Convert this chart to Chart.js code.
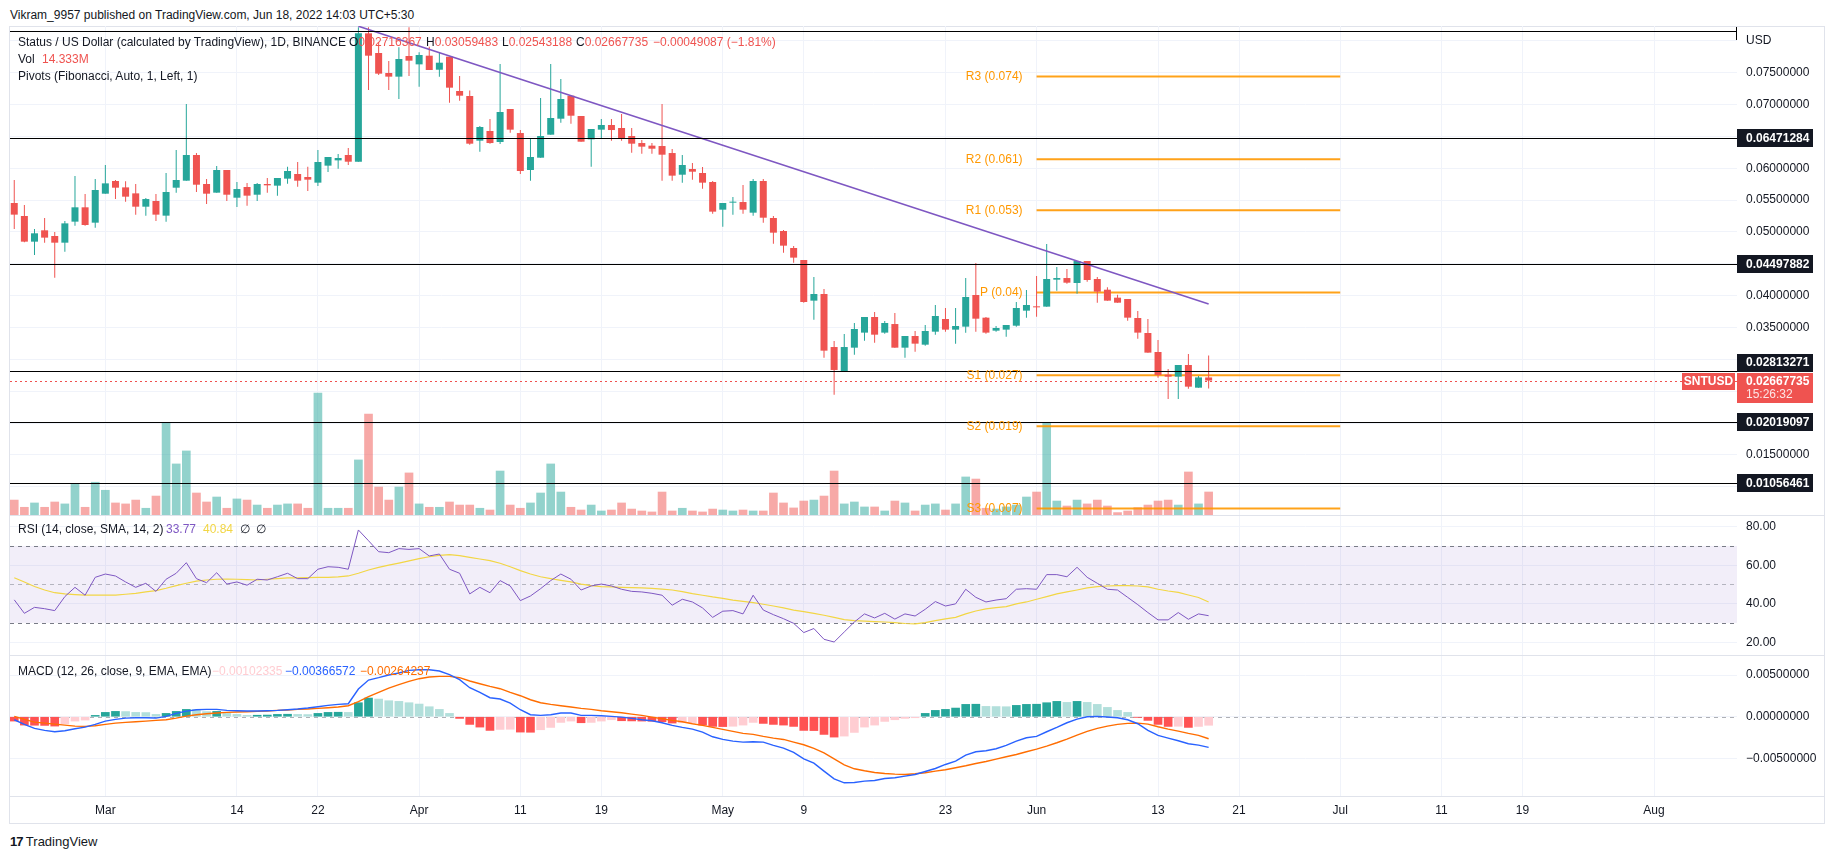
<!DOCTYPE html>
<html>
<head>
<meta charset="utf-8">
<title>SNTUSD 1D</title>
<script src="https://cdn.jsdelivr.net/npm/chart.js@4.4.0/dist/chart.umd.min.js"></script>
<style>
  body { margin: 0; background: #fff; font-family: 'Liberation Sans', Arial, sans-serif; color: #131722; }
  #wrap { position: relative; width: 1834px; height: 859px; overflow: hidden; }
  canvas { position: absolute; left: 0; }
  .txt { position: absolute; font-size: 12px; line-height: 14px; white-space: nowrap; }
  .sep { position: absolute; left: 9px; width: 1815px; height: 1px; background: #e0e3eb; }
  .r { color: #ef5350; }
</style>
</head>
<body>
<div id="wrap">
  <div class="txt" style="left:10px;top:8px">Vikram_9957 published on TradingView.com, Jun 18, 2022 14:03 UTC+5:30</div>
  <div style="position:absolute;left:9px;top:26px;width:1814px;height:796px;border:1px solid #e0e3eb"></div>

  <canvas id="main" width="1824" height="489" style="top:26px"></canvas>
  <canvas id="rsi" width="1824" height="140" style="top:515px"></canvas>
  <canvas id="macd" width="1824" height="168" style="top:655px"></canvas>

  <div class="sep" style="top:515px"></div>
  <div class="sep" style="top:655px"></div>
  <div class="sep" style="top:796px"></div>

  <!-- main pane legend -->
  <div class="txt" style="left:18px;top:35px">Status / US Dollar (calculated by TradingView), 1D, BINANCE</div>
  <div class="txt" style="left:349px;top:35px">O<span class="r">0.02716367</span></div>
  <div class="txt" style="left:426px;top:35px">H<span class="r">0.03059483</span></div>
  <div class="txt" style="left:502px;top:35px">L<span class="r">0.02543188</span></div>
  <div class="txt" style="left:576px;top:35px">C<span class="r">0.02667735</span></div>
  <div class="txt r" style="left:653px;top:35px">−0.00049087 (−1.81%)</div>
  <div class="txt" style="left:18px;top:52px">Vol</div>
  <div class="txt r" style="left:42px;top:52px">14.333M</div>
  <div class="txt" style="left:18px;top:69px">Pivots (Fibonacci, Auto, 1, Left, 1)</div>

  <!-- RSI legend -->
  <div class="txt" style="left:18px;top:522px">RSI (14, close, SMA, 14, 2)</div>
  <div class="txt" style="left:166px;top:522px;color:#7e57c2">33.77</div>
  <div class="txt" style="left:203px;top:522px;color:#f2d645">40.84</div>
  <div class="txt" style="left:240px;top:522px">∅</div>
  <div class="txt" style="left:256px;top:522px">∅</div>

  <!-- MACD legend -->
  <div class="txt" style="left:18px;top:664px">MACD (12, 26, close, 9, EMA, EMA)</div>
  <div class="txt" style="left:212px;top:664px;color:#ffcdd2">−0.00102335</div>
  <div class="txt" style="left:285px;top:664px;color:#2962ff">−0.00366572</div>
  <div class="txt" style="left:360px;top:664px;color:#ff6d00">−0.00264237</div>

  <div class="txt" style="left:10px;top:835px;font-size:13px"><b style="letter-spacing:-1px">17</b> TradingView</div>
</div>

<script>
// ---- data (daily candles, Feb 20 .. Jun 18 2022) ----
const firstDay = -9; // Feb 20, counted in days from Mar 1

const open = [
  0.05455, 0.05251, 0.04848, 0.05026, 0.04937, 0.04832, 0.05162, 0.05387, 0.05146, 0.05601,
  0.05800, 0.05700, 0.05606, 0.05397, 0.05486, 0.05256, 0.05695, 0.05805, 0.06208, 0.05753,
  0.05617, 0.05973, 0.05538, 0.05706, 0.05585, 0.05753, 0.05727, 0.05837, 0.05910, 0.05863,
  0.05774, 0.06041, 0.06124, 0.06208, 0.06103, 0.08118, 0.07809, 0.07495, 0.07438, 0.07762,
  0.07631, 0.07767, 0.07547, 0.07751, 0.07213, 0.07134, 0.06433, 0.06585, 0.06412, 0.06930,
  0.06553, 0.05973, 0.06166, 0.06527, 0.06778, 0.07139, 0.06820, 0.06454, 0.06606, 0.06679,
  0.06632, 0.06506, 0.06396, 0.06355, 0.06349, 0.06239, 0.05899, 0.05988, 0.05926, 0.05784,
  0.05350, 0.05460, 0.05470, 0.05303, 0.05800, 0.05219, 0.05015, 0.04748, 0.04560, 0.03922,
  0.04026, 0.03194, 0.02818, 0.03184, 0.03420, 0.03665, 0.03420, 0.03555, 0.03184, 0.03367,
  0.03231, 0.03435, 0.03634, 0.03467, 0.03514, 0.04011, 0.03655, 0.03451, 0.03467, 0.03529,
  0.03765, 0.03828, 0.03828, 0.04251, 0.04277, 0.04199, 0.04544, 0.04262, 0.04094, 0.03969,
  0.03948, 0.03650, 0.03414, 0.03116, 0.02760, 0.02729, 0.02912, 0.02556, 0.02716367,
];
const high = [
  0.05816, 0.05423, 0.05047, 0.05219, 0.04999, 0.05172, 0.05878, 0.05596, 0.05831, 0.06051,
  0.05816, 0.05795, 0.05753, 0.05533, 0.05596, 0.05926, 0.06286, 0.07009, 0.06239, 0.05831,
  0.06035, 0.05973, 0.05784, 0.05769, 0.05769, 0.05847, 0.05847, 0.06025, 0.06098, 0.06025,
  0.06286, 0.06177, 0.06224, 0.06318, 0.08212, 0.08212, 0.07980, 0.07683, 0.07898, 0.08212,
  0.07820, 0.07908, 0.07820, 0.07751, 0.07448, 0.07220, 0.06663, 0.06773, 0.07636, 0.06930,
  0.06600, 0.06459, 0.07103, 0.07636, 0.07401, 0.07139, 0.06820, 0.06616, 0.06773, 0.06773,
  0.06852, 0.06632, 0.06443, 0.06396, 0.07009, 0.06302, 0.06208, 0.06083, 0.06020, 0.05800,
  0.05455, 0.05549, 0.05737, 0.05831, 0.05831, 0.05251, 0.05031, 0.04780, 0.04560, 0.04293,
  0.04105, 0.03289, 0.03399, 0.03571, 0.03665, 0.03744, 0.03603, 0.03728, 0.03367, 0.03446,
  0.03540, 0.03854, 0.03807, 0.03807, 0.04277, 0.04513, 0.03665, 0.03524, 0.03540, 0.03901,
  0.04089, 0.04309, 0.04811, 0.04450, 0.04419, 0.04544, 0.04544, 0.04293, 0.04131, 0.04016,
  0.03948, 0.03760, 0.03634, 0.03304, 0.02849, 0.02912, 0.03085, 0.02740, 0.03059483,
];
const low = [
  0.05047, 0.04840, 0.04638, 0.04832, 0.04283, 0.04691, 0.05099, 0.05099, 0.05067, 0.05601,
  0.05517, 0.05476, 0.05272, 0.05256, 0.05172, 0.05162, 0.05617, 0.05805, 0.05627, 0.05439,
  0.05617, 0.05486, 0.05392, 0.05413, 0.05486, 0.05617, 0.05570, 0.05758, 0.05711, 0.05643,
  0.05721, 0.05941, 0.05994, 0.06051, 0.06103, 0.07228, 0.07464, 0.07228, 0.07087, 0.07448,
  0.07281, 0.07542, 0.07438, 0.07029, 0.07061, 0.06370, 0.06260, 0.06386, 0.06381, 0.06559,
  0.05910, 0.05805, 0.06166, 0.06527, 0.06716, 0.06700, 0.06417, 0.06025, 0.06459, 0.06433,
  0.06433, 0.06245, 0.06229, 0.06229, 0.05805, 0.05805, 0.05774, 0.05821, 0.05680, 0.05287,
  0.05083, 0.05272, 0.05287, 0.05256, 0.05146, 0.04816, 0.04675, 0.04518, 0.03890, 0.03623,
  0.03027, 0.02446, 0.02818, 0.03074, 0.03294, 0.03263, 0.03404, 0.03184, 0.03027, 0.03121,
  0.03215, 0.03388, 0.03435, 0.03247, 0.03420, 0.03435, 0.03404, 0.03435, 0.03357, 0.03514,
  0.03655, 0.03671, 0.03828, 0.04079, 0.04188, 0.04032, 0.04220, 0.03890, 0.03922, 0.03890,
  0.03608, 0.03325, 0.03106, 0.02713, 0.02379, 0.02379, 0.02541, 0.02556, 0.02543188,
];
const close = [
  0.05272, 0.04848, 0.04979, 0.04911, 0.04832, 0.05135, 0.05387, 0.05109, 0.05659, 0.05763,
  0.05695, 0.05554, 0.05397, 0.05517, 0.05272, 0.05627, 0.05816, 0.06208, 0.05742, 0.05601,
  0.05973, 0.05585, 0.05674, 0.05570, 0.05753, 0.05732, 0.05847, 0.05957, 0.05805, 0.05821,
  0.06098, 0.06177, 0.06161, 0.06103, 0.08118, 0.07767, 0.07485, 0.07438, 0.07715, 0.07689,
  0.07778, 0.07542, 0.07657, 0.07265, 0.07139, 0.06386, 0.06648, 0.06396, 0.06883, 0.06606,
  0.05957, 0.06177, 0.06506, 0.06789, 0.07087, 0.06825, 0.06417, 0.06616, 0.06679, 0.06600,
  0.06464, 0.06386, 0.06339, 0.06307, 0.06213, 0.05884, 0.06051, 0.05946, 0.05774, 0.05319,
  0.05455, 0.05470, 0.05350, 0.05800, 0.05224, 0.04989, 0.04785, 0.04597, 0.03901, 0.04026,
  0.03137, 0.02834, 0.03194, 0.03477, 0.03665, 0.03388, 0.03571, 0.03184, 0.03367, 0.03247,
  0.03446, 0.03681, 0.03467, 0.03524, 0.03979, 0.03639, 0.03420, 0.03493, 0.03540, 0.03807,
  0.03854, 0.03817, 0.04262, 0.04277, 0.04204, 0.04544, 0.04246, 0.04063, 0.03922, 0.03890,
  0.03655, 0.03420, 0.03106, 0.02755, 0.02729, 0.02912, 0.02572, 0.02717, 0.02667735,
];
// volume, millions
const volume = [
  9.3, 4.8, 7.5, 4.8, 8.1, 6.9, 19.5, 4.8, 20.4, 15.4,
  7.5, 6.9, 9.3, 4.2, 11.8, 57.7, 31.8, 39.9, 13.7, 8.1,
  11.2, 4.2, 10.0, 9.3, 6.2, 4.2, 6.2, 6.9, 6.9, 4.2,
  76.0, 4.2, 4.2, 4.2, 34.3, 62.9, 17.4, 9.3, 17.4, 26.2,
  6.9, 4.8, 4.8, 8.1, 6.2, 6.2, 4.2, 3.1, 27.4, 6.2,
  4.2, 7.5, 13.7, 31.8, 14.3, 4.8, 3.1, 6.2, 2.5, 3.1,
  7.5, 3.7, 2.5, 1.9, 14.3, 2.5, 4.2, 2.5, 1.9, 3.7,
  3.1, 2.5, 3.1, 2.5, 2.5, 13.7, 7.5, 4.4, 8.7, 9.3,
  11.8, 27.4, 6.9, 8.1, 5.0, 5.0, 2.5, 8.7, 7.5, 2.5,
  6.2, 6.9, 3.1, 6.9, 23.7, 22.4, 4.2, 3.7, 5.0, 6.2,
  11.2, 14.3, 57.7, 8.7, 5.6, 9.3, 6.9, 9.3, 5.6, 1.5,
  2.5, 4.6, 6.2, 8.7, 9.3, 6.2, 26.8, 6.9, 14.333,
];
const rsi = [
  42.0, 35.0, 38.1, 37.4, 36.4, 43.7, 48.5, 44.4, 53.7, 55.4,
  54.4, 51.3, 48.5, 50.6, 46.4, 52.7, 55.8, 61.3, 53.0, 50.9,
  56.1, 50.2, 51.3, 49.6, 52.7, 52.3, 54.0, 55.8, 53.0, 53.0,
  57.9, 59.2, 58.9, 57.9, 78.3, 72.7, 67.0, 66.5, 68.6, 68.2,
  68.6, 64.8, 65.8, 57.9, 55.8, 45.1, 48.5, 45.7, 52.0, 49.2,
  41.6, 44.0, 47.8, 52.0, 55.4, 52.7, 47.1, 49.2, 50.2, 49.2,
  47.5, 46.4, 46.1, 45.4, 44.4, 39.2, 42.3, 40.9, 37.8, 32.9,
  36.1, 36.4, 34.7, 44.4, 36.7, 34.3, 32.2, 29.8, 25.0, 27.1,
  21.5, 20.1, 25.3, 30.5, 34.7, 32.6, 35.0, 32.0, 34.7, 33.6,
  37.1, 41.1, 38.8, 39.9, 47.5, 43.3, 40.9, 41.9, 42.6, 47.5,
  47.8, 47.5, 55.1, 55.1, 54.0, 58.9, 53.7, 50.6, 47.5, 47.1,
  43.3, 39.5, 35.4, 31.6, 31.6, 35.4, 31.9, 34.7, 33.77,
];
const rsiMa = [
  53.5, 51.3, 48.9, 47.1, 45.7, 45.1, 44.7, 44.4, 44.4, 44.4,
  44.5, 44.9, 45.4, 46.1, 46.8, 48.0, 49.4, 50.6, 51.7, 52.3,
  52.7, 52.8, 52.7, 52.5, 52.3, 52.7, 53.0, 53.4, 53.4, 53.5,
  53.7, 53.7, 53.9, 54.4, 55.8, 57.5, 58.9, 60.0, 61.1, 62.2,
  63.4, 64.4, 65.1, 65.5, 65.0, 64.1, 63.2, 62.4, 61.0, 59.2,
  57.2, 55.4, 54.0, 53.0, 52.1, 51.3, 50.2, 49.4, 48.9, 48.7,
  48.5, 48.3, 48.2, 48.0, 47.6, 47.1, 46.3, 45.2, 44.4, 43.5,
  42.8, 41.9, 41.2, 40.6, 39.7, 38.8, 37.8, 36.7, 35.9, 35.0,
  34.0, 32.9, 31.7, 31.2, 30.9, 30.7, 30.5, 30.2, 29.7, 29.5,
  30.2, 31.2, 32.1, 32.9, 34.7, 36.2, 37.3, 38.0, 38.5, 39.9,
  40.9, 42.3, 43.7, 45.1, 46.1, 47.1, 48.2, 48.9, 49.2, 49.4,
  49.4, 49.2, 48.7, 47.5, 46.6, 45.9, 44.5, 43.2, 40.84,
];
const macdLine = [
  -0.00036, -0.00092, -0.00140, -0.00164, -0.00180, -0.00168, -0.00144, -0.00124, -0.00092, -0.00052,
  -0.00032, -0.00016, -0.00012, -0.00012, -0.00016, 0.00004, 0.00040, 0.00068, 0.00084, 0.00088,
  0.00088, 0.00076, 0.00072, 0.00068, 0.00068, 0.00072, 0.00076, 0.00084, 0.00092, 0.00104,
  0.00120, 0.00136, 0.00148, 0.00156, 0.00332, 0.00440, 0.00468, 0.00500, 0.00524, 0.00556,
  0.00564, 0.00564, 0.00548, 0.00504, 0.00444, 0.00348, 0.00292, 0.00228, 0.00212, 0.00164,
  0.00084, 0.00024, 0.00016, 0.00024, 0.00044, 0.00044, 0.00016, 0.00016, 0.00012, 0.00004,
  -0.00004, -0.00020, -0.00036, -0.00048, -0.00072, -0.00104, -0.00128, -0.00148, -0.00184, -0.00240,
  -0.00272, -0.00292, -0.00304, -0.00300, -0.00304, -0.00344, -0.00376, -0.00428, -0.00504, -0.00556,
  -0.00652, -0.00744, -0.00792, -0.00788, -0.00772, -0.00764, -0.00740, -0.00732, -0.00712, -0.00692,
  -0.00656, -0.00620, -0.00572, -0.00532, -0.00460, -0.00420, -0.00408, -0.00384, -0.00344, -0.00292,
  -0.00252, -0.00236, -0.00180, -0.00128, -0.00072, -0.00028, 0.00000, 0.00004, -0.00004, -0.00012,
  -0.00036, -0.00084, -0.00164, -0.00224, -0.00256, -0.00288, -0.00324, -0.00340, -0.00366572,
];
const signalLine = [
  0.00004, -0.00032, -0.00064, -0.00076, -0.00088, -0.00100, -0.00112, -0.00116, -0.00108, -0.00092,
  -0.00076, -0.00068, -0.00060, -0.00052, -0.00044, -0.00036, -0.00016, 0.00008, 0.00024, 0.00036,
  0.00044, 0.00052, 0.00056, 0.00060, 0.00064, 0.00068, 0.00076, 0.00080, 0.00088, 0.00092,
  0.00100, 0.00108, 0.00116, 0.00132, 0.00180, 0.00240, 0.00292, 0.00344, 0.00384, 0.00424,
  0.00456, 0.00476, 0.00484, 0.00484, 0.00468, 0.00428, 0.00396, 0.00364, 0.00336, 0.00292,
  0.00252, 0.00204, 0.00168, 0.00148, 0.00132, 0.00116, 0.00100, 0.00088, 0.00072, 0.00060,
  0.00048, 0.00032, 0.00016, -0.00004, -0.00024, -0.00044, -0.00060, -0.00084, -0.00104, -0.00128,
  -0.00152, -0.00176, -0.00200, -0.00212, -0.00236, -0.00256, -0.00272, -0.00304, -0.00336, -0.00380,
  -0.00432, -0.00504, -0.00576, -0.00624, -0.00648, -0.00668, -0.00680, -0.00688, -0.00692, -0.00684,
  -0.00672, -0.00652, -0.00636, -0.00612, -0.00588, -0.00560, -0.00536, -0.00508, -0.00480, -0.00452,
  -0.00420, -0.00388, -0.00352, -0.00312, -0.00268, -0.00220, -0.00176, -0.00140, -0.00112, -0.00092,
  -0.00080, -0.00076, -0.00088, -0.00120, -0.00148, -0.00172, -0.00200, -0.00224, -0.00264237,
];
const histogram = [
  -0.00052, -0.00100, -0.00102, -0.00104, -0.00112, -0.00084, -0.00052, -0.00040, 0.00016, 0.00052,
  0.00064, 0.00062, 0.00052, 0.00050, 0.00028, 0.00040, 0.00064, 0.00088, 0.00086, 0.00062,
  0.00064, 0.00040, 0.00028, 0.00016, 0.00018, 0.00020, 0.00028, 0.00030, 0.00028, 0.00026,
  0.00040, 0.00052, 0.00054, 0.00052, 0.00168, 0.00224, 0.00212, 0.00192, 0.00184, 0.00168,
  0.00152, 0.00120, 0.00088, 0.00040, -0.00020, -0.00092, -0.00124, -0.00164, -0.00152, -0.00150,
  -0.00184, -0.00186, -0.00156, -0.00128, -0.00068, -0.00052, -0.00072, -0.00068, -0.00052, -0.00036,
  -0.00048, -0.00050, -0.00052, -0.00054, -0.00060, -0.00076, -0.00072, -0.00070, -0.00100, -0.00116,
  -0.00118, -0.00114, -0.00100, -0.00068, -0.00080, -0.00092, -0.00100, -0.00116, -0.00164, -0.00166,
  -0.00212, -0.00244, -0.00232, -0.00188, -0.00124, -0.00100, -0.00056, -0.00036, -0.00020, -0.00012,
  0.00040, 0.00076, 0.00088, 0.00104, 0.00148, 0.00150, 0.00124, 0.00122, 0.00120, 0.00136,
  0.00148, 0.00150, 0.00168, 0.00184, 0.00172, 0.00184, 0.00172, 0.00148, 0.00112, 0.00076,
  0.00052, -0.00008, -0.00044, -0.00092, -0.00116, -0.00114, -0.00128, -0.00116, -0.00102335,
];

// drawn levels
const hLevels = [0.08147, 0.06471284, 0.04497882, 0.02813271, 0.02019097, 0.01056461];
const hLevelLabels = ['', '0.06471284', '0.04497882', '0.02813271', '0.02019097', '0.01056461'];
const trendDays = [25, 109];
const trendPrices = [0.0823, 0.0387];
const pivotDays = [92, 122];
const pivotLevels = [0.0744, 0.0614, 0.0534, 0.0405, 0.0275, 0.0195, 0.0066];
const pivotLabels = ['R3 (0.074)', 'R2 (0.061)', 'R1 (0.053)', 'P (0.04)', 'S1 (0.027)', 'S2 (0.019)', 'S3 (0.007)'];
const lastPrice = 0.02667735;

// time axis
const tickDays = [0, 13, 21, 31, 41, 49, 61, 69, 83, 92, 104, 112, 122, 132, 140, 153];
const tickLabels = ['Mar', '14', '22', 'Apr', '11', '19', 'May', '9', '23', 'Jun', '13', '21', 'Jul', '11', '19', 'Aug'];
const xMin = -9.42, xMax = 161.2;

// value axes
const priceTicks = [0.08, 0.075, 0.07, 0.065, 0.06, 0.055, 0.05, 0.045, 0.04, 0.035, 0.03, 0.025, 0.02, 0.015, 0.01];
const priceTickLabels = ['USD', '0.07500000', '0.07000000', '', '0.06000000', '0.05500000', '0.05000000', '',
  '0.04000000', '0.03500000', '', '', '', '0.01500000', ''];
const rsiTicks = [80, 60, 40, 20];
const rsiTickLabels = ['80.00', '60.00', '40.00', '20.00'];
const macdTicks = [0.005, 0, -0.005];
const macdTickLabels = ['0.00500000', '0.00000000', '−0.00500000'];

// ---- setup ----
Chart.defaults.font.family = "'Liberation Sans', Arial, sans-serif";
Chart.defaults.font.size = 12;
Chart.defaults.color = '#131722';

const UP = '#26a69a';
const DOWN = '#ef5350';
const GRID = '#f0f3fa';
const AXIS_W = 87;
const FONT = "12px 'Liberation Sans', Arial, sans-serif";
const BOLD = "bold 12px 'Liberation Sans', Arial, sans-serif";

const days = close.map((_, i) => firstDay + i);
const candleColors = close.map((c, i) => (c >= open[i] ? UP : DOWN));
const volColors = close.map((c, i) => (c >= open[i] ? 'rgba(38,166,154,0.5)' : 'rgba(239,83,80,0.5)'));
const histColors = histogram.map((h, i) => {
  const rising = i > 0 && h > histogram[i - 1];
  if (h >= 0) return rising ? '#26a69a' : '#b2dfdb';
  return rising ? '#ffcdd2' : '#ff5252';
});

const common = {
  responsive: false,
  animation: false,
  devicePixelRatio: 1,
  events: [],
  layout: { padding: { left: 10, right: 0, top: 0, bottom: 0 } },
  plugins: { legend: { display: false }, tooltip: { enabled: false } },
};

function timeAxis(showLabels) {
  return {
    type: 'linear',
    min: xMin,
    max: xMax,
    offset: false,
    afterBuildTicks: (s) => { s.ticks = tickDays.map((v) => ({ value: v })); },
    afterFit: (s) => {
      s.height = showLabels ? 27 : 0;
      s.paddingLeft = 0;
      s.paddingRight = 0;
    },
    grid: { color: GRID, drawTicks: false, offset: false },
    border: { display: false },
    ticks: {
      display: showLabels,
      autoSkip: false,
      maxRotation: 0,
      padding: 7,
      callback: (v, i) => tickLabels[i],
    },
  };
}

function valueAxis(min, max, ticks, labels) {
  return {
    position: 'right',
    min,
    max,
    afterBuildTicks: (s) => { s.ticks = ticks.map((v) => ({ value: v })); },
    afterFit: (s) => {
      // keep the pane full height: no room reserved for overflowing labels
      s.width = AXIS_W;
      s.paddingTop = 0;
      s.paddingBottom = 0;
    },
    grid: { color: GRID, drawTicks: false },
    border: { display: false },
    ticks: { padding: 9, autoSkip: false, callback: (v, i) => labels[i] },
  };
}

function hLine(ctx, a, y, color, width, dash) {
  ctx.save();
  ctx.strokeStyle = color;
  ctx.lineWidth = width;
  ctx.setLineDash(dash || []);
  ctx.beginPath();
  ctx.moveTo(a.left, y);
  ctx.lineTo(a.right, y);
  ctx.stroke();
  ctx.restore();
}

function axisBox(ctx, x, yc, text, bg) {
  ctx.fillStyle = bg;
  ctx.fillRect(x, Math.round(yc - 9), 76, 18);
  ctx.fillStyle = '#fff';
  ctx.font = BOLD;
  ctx.textAlign = 'left';
  ctx.textBaseline = 'middle';
  ctx.fillText(text, x + 9, yc + 0.5);
}

// ---- main pane extras: levels, price line, pivot labels, axis boxes ----
const mainDecor = {
  id: 'mainDecor',
  beforeDatasetsDraw(chart) {
    const { ctx, chartArea: a, scales: { y } } = chart;
    const py = Math.round(y.getPixelForValue(lastPrice)) + 0.5;
    hLine(ctx, a, py, DOWN, 1, [2, 3]);
  },
  afterDatasetsDraw(chart) {
    const { ctx, chartArea: a, scales: { x, y } } = chart;
    hLevels.forEach((lv) => {
      const py = Math.round(y.getPixelForValue(lv)) + 0.5;
      hLine(ctx, a, py, '#000', 1.2);
    });
    // right end mark of the top ray
    const ty = Math.round(y.getPixelForValue(hLevels[0]));
    ctx.save();
    ctx.strokeStyle = '#000';
    ctx.lineWidth = 1;
    ctx.beginPath();
    ctx.moveTo(a.right - 0.5, ty - 4);
    ctx.lineTo(a.right - 0.5, ty + 9);
    ctx.stroke();

    ctx.font = FONT;
    ctx.fillStyle = '#ff9800';
    ctx.textAlign = 'right';
    ctx.textBaseline = 'middle';
    const lx = x.getPixelForValue(pivotDays[0]) - 14;
    pivotLevels.forEach((lv, i) => {
      ctx.fillText(pivotLabels[i], lx, y.getPixelForValue(lv));
    });
    ctx.restore();
  },
  afterDraw(chart) {
    const { ctx, chartArea: a, scales: { y } } = chart;
    const bx = a.right;
    ctx.save();
    const pY = y.getPixelForValue(lastPrice);
    hLevels.forEach((lv, i) => {
      if (!hLevelLabels[i]) return;
      let yc = y.getPixelForValue(lv);
      if (Math.abs(yc - pY) < 20) yc = pY - 18;
      axisBox(ctx, bx, yc, hLevelLabels[i], '#131722');
    });
    // last price box with countdown
    ctx.fillStyle = DOWN;
    ctx.fillRect(bx, Math.round(pY - 8), 76, 30);
    ctx.fillStyle = '#fff';
    ctx.font = BOLD;
    ctx.textAlign = 'left';
    ctx.textBaseline = 'middle';
    ctx.fillText('0.02667735', bx + 9, pY + 1);
    ctx.font = FONT;
    ctx.fillStyle = 'rgba(255,255,255,0.85)';
    ctx.fillText('15:26:32', bx + 9, pY + 14);
    // symbol tag
    ctx.fillStyle = DOWN;
    ctx.fillRect(bx - 55, Math.round(pY - 8), 53, 17);
    ctx.fillStyle = '#fff';
    ctx.font = BOLD;
    ctx.textAlign = 'center';
    ctx.fillText('SNTUSD', bx - 28.5, pY + 1);
    ctx.restore();
  },
};

// ---- RSI pane extras: band and dashed bounds ----
const rsiDecor = {
  id: 'rsiDecor',
  beforeDatasetsDraw(chart) {
    const { ctx, chartArea: a, scales: { y } } = chart;
    const y70 = y.getPixelForValue(70);
    const y30 = y.getPixelForValue(30);
    ctx.save();
    ctx.fillStyle = 'rgba(126,87,194,0.1)';
    ctx.fillRect(a.left, y70, a.right - a.left, y30 - y70);
    ctx.restore();
    hLine(ctx, a, Math.round(y70) + 0.5, '#787b86', 1, [4, 4]);
    hLine(ctx, a, Math.round(y.getPixelForValue(50)) + 0.5, 'rgba(120,123,134,0.5)', 1, [4, 4]);
    hLine(ctx, a, Math.round(y30) + 0.5, '#787b86', 1, [4, 4]);
  },
};

// ---- MACD pane extras: zero line ----
const macdDecor = {
  id: 'macdDecor',
  beforeDatasetsDraw(chart) {
    const { ctx, chartArea: a, scales: { y } } = chart;
    hLine(ctx, a, Math.round(y.getPixelForValue(0)) + 0.5, 'rgba(120,123,134,0.6)', 1, [4, 4]);
  },
};

// ---- charts ----
new Chart(document.getElementById('main'), {
  type: 'bar',
  data: {
    datasets: [
      {
        label: 'Volume',
        yAxisID: 'yv',
        data: days.map((d, i) => ({ x: d, y: volume[i] })),
        backgroundColor: volColors,
        barThickness: 8,
        grouped: false,
        order: 6,
      },
      ...pivotLevels.map((lv) => ({
        type: 'line',
        data: pivotDays.map((d) => ({ x: d, y: lv })),
        borderColor: 'rgba(255,152,0,0.9)',
        borderWidth: 2,
        pointRadius: 0,
        order: 5,
      })),
      {
        label: 'Wick',
        data: days.map((d, i) => ({ x: d, y: [low[i], high[i]] })),
        backgroundColor: candleColors,
        barThickness: 1,
        inflateAmount: 0,
        grouped: false,
        order: 3,
      },
      {
        label: 'Body',
        data: days.map((d, i) => ({ x: d, y: [open[i], close[i]] })),
        backgroundColor: candleColors,
        barThickness: 7,
        minBarLength: 1,
        inflateAmount: 0,
        grouped: false,
        order: 2,
      },
      {
        type: 'line',
        label: 'Trend',
        data: trendDays.map((d, i) => ({ x: d, y: trendPrices[i] })),
        borderColor: '#7e57c2',
        borderWidth: 1.5,
        pointRadius: 0,
        order: 1,
      },
    ],
  },
  options: {
    ...common,
    scales: {
      x: timeAxis(false),
      y: valueAxis(0.005575, 0.08233, priceTicks, priceTickLabels),
      yv: { display: false, min: 0, max: 304.6 },
    },
  },
  plugins: [mainDecor],
});

new Chart(document.getElementById('rsi'), {
  type: 'line',
  data: {
    datasets: [
      {
        label: 'RSI',
        data: days.map((d, i) => ({ x: d, y: rsi[i] })),
        borderColor: '#7e57c2',
        borderWidth: 1,
        pointRadius: 0,
      },
      {
        label: 'RSI MA',
        data: days.map((d, i) => ({ x: d, y: rsiMa[i] })),
        borderColor: '#f2d645',
        borderWidth: 1.2,
        pointRadius: 0,
      },
    ],
  },
  options: {
    ...common,
    scales: {
      x: timeAxis(false),
      y: valueAxis(13.35, 86.07, rsiTicks, rsiTickLabels),
    },
  },
  plugins: [rsiDecor],
});

new Chart(document.getElementById('macd'), {
  type: 'bar',
  data: {
    datasets: [
      {
        label: 'Histogram',
        data: days.map((d, i) => ({ x: d, y: histogram[i] })),
        backgroundColor: histColors,
        barThickness: 8,
        grouped: false,
        order: 3,
      },
      {
        type: 'line',
        label: 'MACD',
        data: days.map((d, i) => ({ x: d, y: macdLine[i] })),
        borderColor: '#2962ff',
        borderWidth: 1.4,
        pointRadius: 0,
        order: 1,
      },
      {
        type: 'line',
        label: 'Signal',
        data: days.map((d, i) => ({ x: d, y: signalLine[i] })),
        borderColor: '#ff6d00',
        borderWidth: 1.4,
        pointRadius: 0,
        order: 2,
      },
    ],
  },
  options: {
    ...common,
    scales: {
      x: timeAxis(true),
      y: valueAxis(-0.0095, 0.0074, macdTicks, macdTickLabels),
    },
  },
  plugins: [macdDecor],
});
</script>
</body>
</html>
